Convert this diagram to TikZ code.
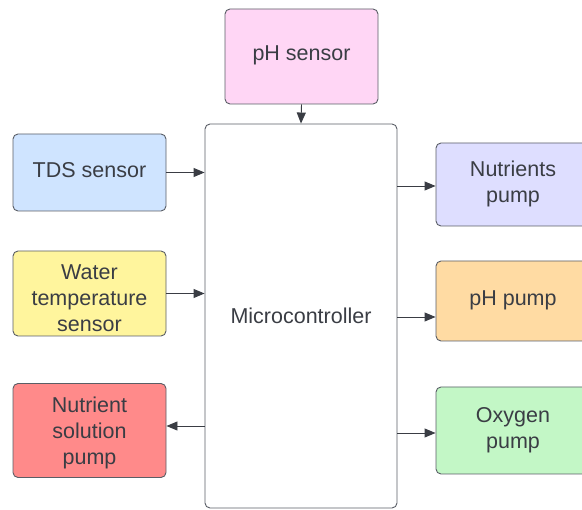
\documentclass[tikz,border=0pt]{standalone}
\usepackage{fontspec}
\setmainfont{Liberation Sans}
\usetikzlibrary{arrows.meta}
\definecolor{edge}{HTML}{5A5E66}
\definecolor{ink}{HTML}{3A3D44}
\definecolor{cblue}{HTML}{CFE4FF}
\definecolor{cpink}{HTML}{FFD6F5}
\definecolor{cyellow}{HTML}{FFF59D}
\definecolor{cred}{HTML}{FF8A8A}
\definecolor{clav}{HTML}{DEDEFF}
\definecolor{corange}{HTML}{FFDBA3}
\definecolor{cgreen}{HTML}{C3F7C6}
\tikzset{
  block/.style={draw=edge, line width=0.9pt, rounded corners=5pt, inner sep=0pt},
  caption/.style={text=ink, align=center, inner sep=0pt,
    font=\fontsize{21.5}{26}\selectfont},
  link/.style={draw=ink, line width=0.9pt, -{Triangle[length=11pt,width=9pt]}}
}
\begin{document}
\begin{tikzpicture}[x=1pt,y=-1pt]
\useasboundingbox (0,0) rectangle (582,510);
\clip (0,0) rectangle (582,510);
% central controller
\node[block, fill=white, minimum width=192, minimum height=384] (mcu) at (301,316) {};
\node[caption] (mcu-t) at (mcu.center) {Microcontroller};
% inputs
\node[block, fill=cpink, minimum width=153, minimum height=95] (ph) at (301.5,56.5) {};
\node[caption, yshift=1pt] (ph-t) at (ph.center) {pH sensor};
\node[block, fill=cblue, minimum width=153, minimum height=77] (tds) at (89.5,172.5) {};
\node[caption, yshift=2pt] (tds-t) at (tds.center) {TDS sensor};
\node[block, fill=cyellow, minimum width=153, minimum height=85] (wt) at (89.5,293.5) {};
\node[caption, yshift=-5pt] (wt-t) at (wt.center) {Water\\temperature\\sensor};
% outputs
\node[block, fill=cred, minimum width=153, minimum height=94] (nsp) at (89.5,430.5) {};
\node[caption, yshift=-2pt] (nsp-t) at (nsp.center) {Nutrient\\solution\\pump};
\node[block, fill=clav, minimum width=154, minimum height=83] (np) at (513,184.5) {};
\node[caption, yshift=1pt] (np-t) at (np.center) {Nutrients\\pump};
\node[block, fill=corange, minimum width=154, minimum height=80] (php) at (513,301) {};
\node[caption, yshift=1pt] (php-t) at (php.center) {pH pump};
\node[block, fill=cgreen, minimum width=154, minimum height=87] (op) at (513,430.5) {};
\node[caption] (op-t) at (op.center) {Oxygen\\pump};
% connectors
\draw[link] (ph.south) -- (mcu.north);
\draw[link] (tds.east) -- (tds.east -| mcu.west);
\draw[link] (wt.east) -- (wt.east -| mcu.west);
\coordinate (nspsrc) at (mcu.west |- 0,426);
\draw[link] (nspsrc) -- (nspsrc -| nsp.east);
\coordinate (npsrc) at (mcu.east |- 0,186);
\draw[link] (npsrc) -- (npsrc -| np.west);
\coordinate (phpsrc) at (mcu.east |- 0,317);
\draw[link] (phpsrc) -- (phpsrc -| php.west);
\coordinate (opsrc) at (mcu.east |- 0,433);
\draw[link] (opsrc) -- (opsrc -| op.west);
\end{tikzpicture}
\end{document}
